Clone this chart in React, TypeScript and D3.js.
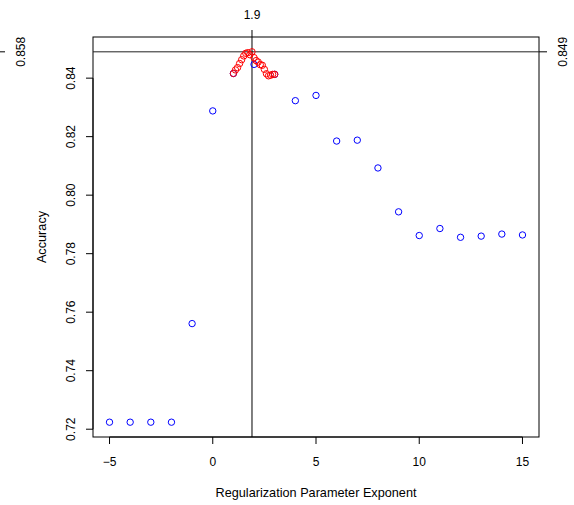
import React, { useRef, useEffect } from 'react';
import * as d3 from 'd3';

// coarse grid: exponents -5..15
const coarseX = [-5, -4, -3, -2, -1, 0, 1, 2, 3, 4, 5, 6, 7, 8, 9, 10, 11, 12, 13, 14, 15];
const coarseY = [0.7224, 0.7224, 0.7224, 0.7224, 0.7561, 0.8288, 0.8416, 0.8447, 0.8413, 0.8323, 0.8341,
  0.8185, 0.8188, 0.8093, 0.7943, 0.7862, 0.7886, 0.7856, 0.7860, 0.7867, 0.7864];

// fine grid: exponents 1.0..3.0 by 0.1
const fineX = [1.0, 1.1, 1.2, 1.3, 1.4, 1.5, 1.6, 1.7, 1.8, 1.9, 2.0, 2.1, 2.2, 2.3, 2.4, 2.5, 2.6, 2.7, 2.8, 2.9, 3.0];
const fineY = [0.8416, 0.8428, 0.8436, 0.8450, 0.8463, 0.8476, 0.8485, 0.8487, 0.8480, 0.8490, 0.8470,
  0.8460, 0.8455, 0.8446, 0.8444, 0.8430, 0.8415, 0.8408, 0.8410, 0.8413, 0.8413];

const xTicks = [-5, 0, 5, 10, 15];
const yTicks = [0.72, 0.74, 0.76, 0.78, 0.80, 0.82, 0.84];
const bestX = 1.9;
const bestY = 0.849;
const bestYLeftLabel = '0.858';

const App = () => {
  const svgRef = useRef<SVGSVGElement>(null);

  useEffect(() => {
    const svg = d3.select(svgRef.current);
    svg.selectAll('*').remove();

    const width = 574;
    const height = 505;
    const m = { left: 93, right: 539, top: 37, bottom: 437 };
    const font = 'Liberation Sans, Arial, sans-serif';
    const tickSize = 12;
    const titleSize = 12.7;

    const allY = coarseY.concat(fineY);
    const yExt = d3.extent(allY) as [number, number];
    const yPad = (yExt[1] - yExt[0]) * 0.04;
    const xPad = (15 - -5) * 0.04;

    const x = d3.scaleLinear().domain([-5 - xPad, 15 + xPad]).range([m.left, m.right]);
    const y = d3.scaleLinear().domain([yExt[0] - yPad, yExt[1] + yPad]).range([m.bottom, m.top]);

    svg.attr('width', width).attr('height', height);
    svg.append('rect').attr('width', width).attr('height', height).attr('fill', 'white');

    // plot box
    svg.append('rect')
      .attr('x', m.left).attr('y', m.top)
      .attr('width', m.right - m.left).attr('height', m.bottom - m.top)
      .attr('fill', 'none').attr('stroke', 'black').attr('stroke-width', 1);

    // x axis
    const gx = svg.append('g');
    gx.append('line')
      .attr('x1', x(xTicks[0])).attr('x2', x(xTicks[xTicks.length - 1]))
      .attr('y1', m.bottom).attr('y2', m.bottom).attr('stroke', 'black');
    xTicks.forEach(t => {
      gx.append('line').attr('x1', x(t)).attr('x2', x(t))
        .attr('y1', m.bottom).attr('y2', m.bottom + 7).attr('stroke', 'black');
      gx.append('text').attr('x', x(t)).attr('y', m.bottom + 29)
        .attr('text-anchor', 'middle').attr('font-family', font).attr('font-size', tickSize)
        .text(t < 0 ? '\u2212' + Math.abs(t) : String(t));
    });

    // y axis
    const gy = svg.append('g');
    gy.append('line')
      .attr('x1', m.left).attr('x2', m.left)
      .attr('y1', y(yTicks[0])).attr('y2', y(yTicks[yTicks.length - 1])).attr('stroke', 'black');
    yTicks.forEach(t => {
      gy.append('line').attr('x1', m.left - 7).attr('x2', m.left)
        .attr('y1', y(t)).attr('y2', y(t)).attr('stroke', 'black');
      gy.append('text')
        .attr('transform', `translate(${m.left - 18},${y(t)}) rotate(-90)`)
        .attr('text-anchor', 'middle').attr('font-family', font).attr('font-size', tickSize)
        .text(t.toFixed(2));
    });

    // axis titles
    svg.append('text').attr('x', (m.left + m.right) / 2).attr('y', 496.5)
      .attr('text-anchor', 'middle').attr('font-family', font).attr('font-size', titleSize)
      .text('Regularization Parameter Exponent');
    svg.append('text')
      .attr('transform', `translate(45.5,${(m.top + m.bottom) / 2}) rotate(-90)`)
      .attr('text-anchor', 'middle').attr('font-family', font).attr('font-size', titleSize)
      .text('Accuracy');

    // reference lines
    svg.append('line').attr('x1', m.left).attr('x2', m.right)
      .attr('y1', y(bestY)).attr('y2', y(bestY)).attr('stroke', '#222');
    svg.append('line').attr('x1', x(bestX)).attr('x2', x(bestX))
      .attr('y1', m.top - 7).attr('y2', m.bottom).attr('stroke', 'black');

    // top label
    svg.append('text').attr('x', x(bestX)).attr('y', m.top - 18)
      .attr('text-anchor', 'middle').attr('font-family', font).attr('font-size', tickSize)
      .text(String(bestX));

    // right label
    svg.append('line').attr('x1', m.right).attr('x2', m.right + 8)
      .attr('y1', y(bestY)).attr('y2', y(bestY)).attr('stroke', 'black');
    svg.append('text')
      .attr('transform', `translate(${m.right + 28},${y(bestY)}) rotate(-90)`)
      .attr('text-anchor', 'middle').attr('font-family', font).attr('font-size', tickSize)
      .text(String(bestY));

    // left outer label
    svg.append('line').attr('x1', 0).attr('x2', 5)
      .attr('y1', y(bestY)).attr('y2', y(bestY)).attr('stroke', 'black');
    svg.append('text')
      .attr('transform', `translate(24.5,${y(bestY)}) rotate(-90)`)
      .attr('text-anchor', 'middle').attr('font-family', font).attr('font-size', tickSize)
      .text(bestYLeftLabel);

    // points
    svg.append('g').selectAll('circle')
      .data(coarseX.map((v, i) => [v, coarseY[i]]))
      .enter().append('circle')
      .attr('cx', d => x(d[0])).attr('cy', d => y(d[1])).attr('r', 3.2)
      .attr('fill', 'none').attr('stroke', 'blue').attr('stroke-width', 1);

    svg.append('g').selectAll('circle')
      .data(fineX.map((v, i) => [v, fineY[i]]))
      .enter().append('circle')
      .attr('cx', d => x(d[0])).attr('cy', d => y(d[1])).attr('r', 3.2)
      .attr('fill', 'none').attr('stroke', 'red').attr('stroke-width', 1);
  }, []);

  return <svg ref={svgRef} style={{ position: 'absolute', left: 0, top: 0 }}></svg>;
};

export default App;
